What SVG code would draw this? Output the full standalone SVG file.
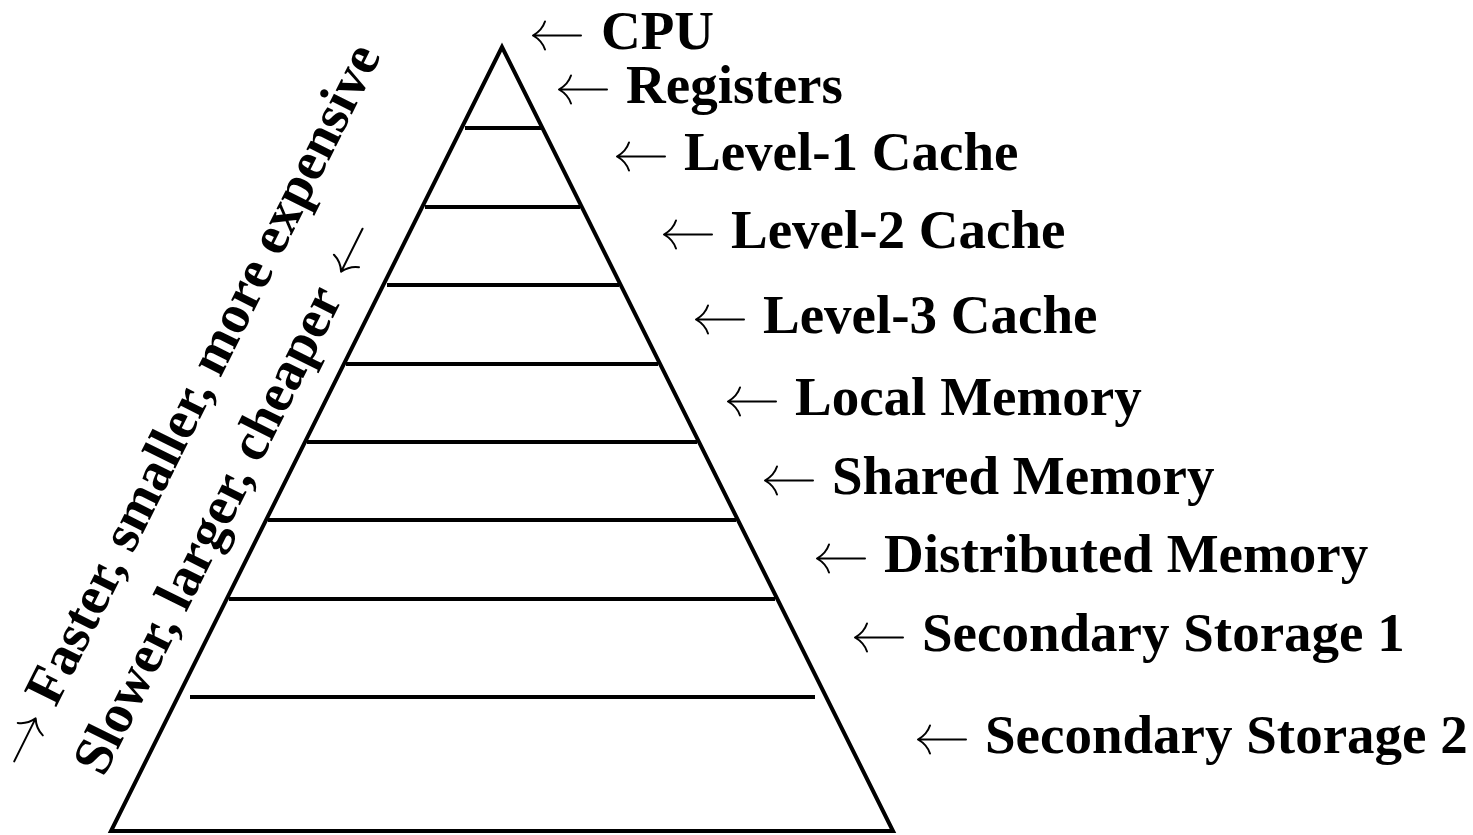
<svg xmlns="http://www.w3.org/2000/svg" width="1473" height="835" viewBox="0 0 1473 835">
  <style>
    .edge { fill: none; stroke: #000; stroke-width: 4; stroke-linejoin: miter; }
    .sep { stroke: #000; stroke-width: 4; }
    .arr { fill: none; stroke: #000; stroke-width: 2; stroke-linecap: round; }
    .lbl { font-family: "Liberation Serif", "Times New Roman", serif; font-weight: bold; font-size: 55px; fill: #000; }
    .rot { font-family: "Liberation Serif", "Times New Roman", serif; font-weight: bold; font-size: 55px; fill: #000; }
  </style>
  <defs>
    <path id="larrow" class="arr" d="M0,0 H48 M0,0 Q9,-5 12,-14 M0,0 Q9,5 12,14"/>
    <path id="rarrow" class="arr" d="M0,0 H48 M48,0 Q39,-5 36,-14 M48,0 Q39,5 36,14"/>
  </defs>
  <rect width="1473" height="835" fill="#fff"/>

  <g id="pyramid">
    <polygon class="edge" points="502,47 111,831 893,831"/>
    <line class="sep" x1="465" y1="128" x2="541" y2="128"/>
    <line class="sep" x1="425" y1="207" x2="580" y2="207"/>
    <line class="sep" x1="387" y1="285" x2="619" y2="285"/>
    <line class="sep" x1="346" y1="364" x2="658" y2="364"/>
    <line class="sep" x1="307" y1="442" x2="697" y2="442"/>
    <line class="sep" x1="268" y1="520" x2="736" y2="520"/>
    <line class="sep" x1="229" y1="599" x2="775" y2="599"/>
    <line class="sep" x1="190" y1="697" x2="815" y2="697"/>
  </g>

  <g id="connectors">
    <use href="#larrow" x="533" y="35.5"/>
    <use href="#larrow" x="559" y="89.5"/>
    <use href="#larrow" x="617" y="156.5"/>
    <use href="#larrow" x="664" y="234.5"/>
    <use href="#larrow" x="696" y="319.5"/>
    <use href="#larrow" x="728" y="401.5"/>
    <use href="#larrow" x="765" y="480.5"/>
    <use href="#larrow" x="817" y="558.5"/>
    <use href="#larrow" x="855" y="637.5"/>
    <use href="#larrow" x="918" y="739.5"/>
  </g>

  <g id="label-cpu"><text class="lbl" x="601" y="49">CPU</text></g>
  <g id="label-registers"><text class="lbl" x="626" y="103">Registers</text></g>
  <g id="label-l1"><text class="lbl" x="684" y="170">Level-1 Cache</text></g>
  <g id="label-l2"><text class="lbl" x="731" y="248">Level-2 Cache</text></g>
  <g id="label-l3"><text class="lbl" x="763" y="333">Level-3 Cache</text></g>
  <g id="label-local"><text class="lbl" x="795" y="415">Local Memory</text></g>
  <g id="label-shared"><text class="lbl" x="832" y="494">Shared Memory</text></g>
  <g id="label-distributed"><text class="lbl" x="884" y="572">Distributed Memory</text></g>
  <g id="label-secondary1"><text class="lbl" x="922" y="651">Secondary Storage 1</text></g>
  <g id="label-secondary2"><text class="lbl" x="985" y="753">Secondary Storage 2</text></g>

  <g id="axis-faster" transform="translate(26.3,767.4) rotate(-63.5)">
    <use href="#rarrow" x="0" y="-13.5"/>
    <text class="rot" x="66" y="0">Faster, smaller, more expensive</text>
  </g>
  <g id="axis-slower" transform="translate(106,773.5) rotate(-63.5)">
    <text class="rot" x="-5" y="0">Slower, larger, cheaper</text>
    <use href="#larrow" x="554" y="-13.5"/>
  </g>
</svg>
